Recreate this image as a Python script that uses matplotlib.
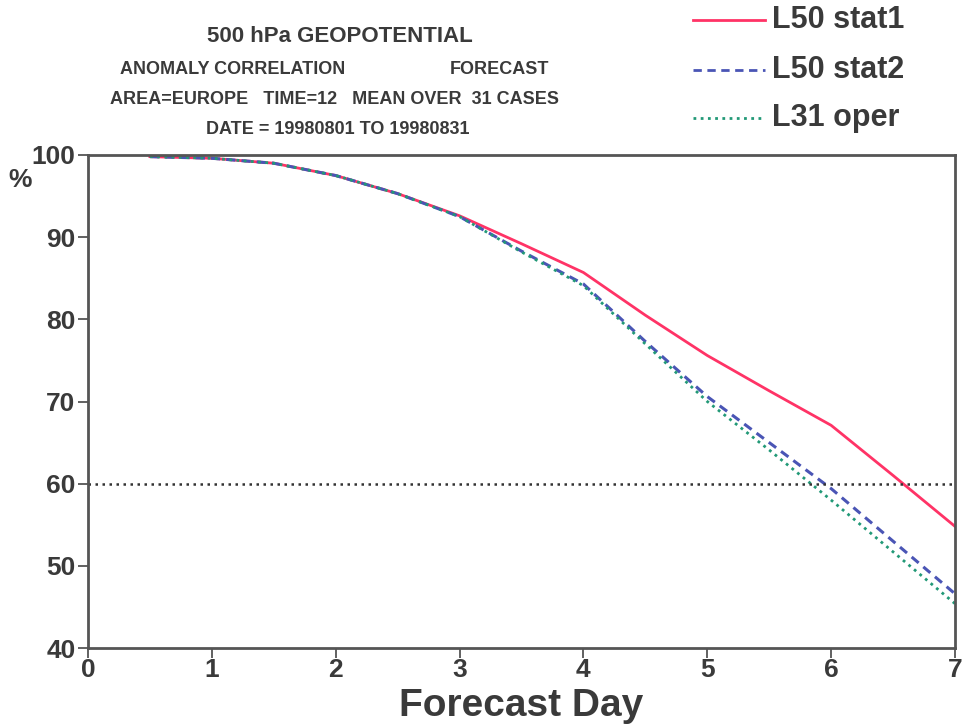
import matplotlib
matplotlib.use("Agg")
import matplotlib.pyplot as plt

days = [0.5, 1, 1.5, 2, 2.5, 3, 3.5, 4, 4.5, 5, 5.5, 6, 6.5, 7]
l50_stat1 = [99.8, 99.6, 99.0, 97.5, 95.3, 92.6, 89.2, 85.7, 80.5, 75.6, 71.3, 67.1, 61.0, 54.8]
l50_stat2 = [99.8, 99.6, 99.0, 97.5, 95.3, 92.5, 88.3, 84.3, 77.3, 70.6, 65.0, 59.4, 53.0, 46.6]
l31_oper = [99.8, 99.6, 99.0, 97.5, 95.3, 92.5, 88.2, 84.1, 77.0, 70.0, 64.1, 58.0, 51.7, 45.4]
series_labels = ["L50 stat1", "L50 stat2", "L31 oper"]
xticks = [0, 1, 2, 3, 4, 5, 6, 7]
yticks = [40, 50, 60, 70, 80, 90, 100]

fam = "Liberation Sans"
plt.rcParams["font.family"] = [fam, "DejaVu Sans"]

W, H = 964, 728
fig = plt.figure(figsize=(W / 100, H / 100), dpi=100)
ax = fig.add_axes([88 / W, 1 - 648 / H, (955 - 88) / W, (648 - 155) / H])

tc = "#3a3a3a"
ax.plot(days, l50_stat1, color="#ff3366", lw=2.0, ls="-")
ax.plot(days, l50_stat2, color="#4a55b5", lw=2.2, ls=(0, (3, 2)))
ax.plot(days, l31_oper, color="#229977", lw=2.0, ls=(0, (1, 1.6)))
ax.axhline(60, color="#333333", lw=1.8, ls=(0, (1, 1.8)))

ax.set_xlim(0, 7)
ax.set_ylim(40, 100)
ax.set_xticks(xticks)
ax.set_yticks(yticks)
ax.tick_params(axis="both", direction="out", length=7, width=1.3, color="#555555",
               labelcolor=tc)
for lab in ax.get_xticklabels():
    lab.set_fontsize(19); lab.set_fontweight("bold")
for lab in ax.get_yticklabels():
    lab.set_fontsize(19); lab.set_fontweight("bold")
ax.tick_params(axis="x", pad=0)
ax.tick_params(axis="y", pad=2)
for s in ax.spines.values():
    s.set_color("#555555"); s.set_linewidth(2.0)

def ft(x, y, s, **kw):
    fig.text(x / W, 1 - y / H, s, color=tc, fontweight="bold", va="center", **kw)

ft(521, 706, "Forecast Day", fontsize=28, ha="center")

ft(340, 37, "500 hPa GEOPOTENTIAL", fontsize=16, ha="center")
ft(120, 70, "ANOMALY CORRELATION", fontsize=13)
ft(450, 70, "FORECAST", fontsize=13)
ft(110, 100, "AREA=EUROPE   TIME=12   MEAN OVER  31 CASES", fontsize=13)
ft(338, 130, "DATE = 19980801 TO 19980831", fontsize=13, ha="center")
ft(20, 180, "%", fontsize=19, ha="center")

# legend
colors = ["#ff3366", "#4a55b5", "#229977"]
styles = ["-", (0, (3, 2)), (0, (1, 1.6))]
ys = [20, 70, 118]
for lab, c, st, y in zip(series_labels, colors, styles, ys):
    fig.add_artist(plt.Line2D([693 / W, 765 / W], [1 - y / H, 1 - y / H], color=c, lw=2.0, ls=st))
    ft(772, y, lab, fontsize=22)

fig.savefig("out.png", dpi=100, facecolor="white")
